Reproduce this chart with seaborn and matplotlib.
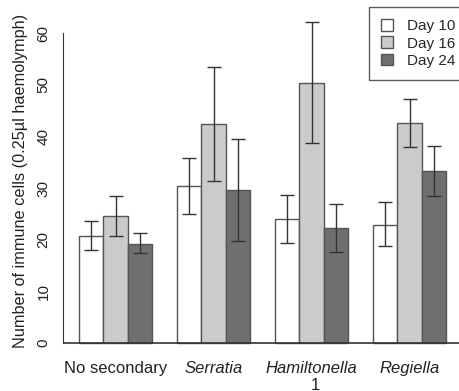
import pandas as pd
import seaborn as sns
import matplotlib.pyplot as plt

# Data
groups = ["No secondary", "Serratia", "Hamiltonella", "Regiella"]
days = ["Day 10", "Day 16", "Day 24"]
day10 = [20.8, 30.4, 24.0, 22.9]
day16 = [24.6, 42.3, 50.4, 42.5]
day24 = [19.2, 29.6, 22.3, 33.2]
day10_lo = [18.0, 25.0, 19.3, 18.7]
day10_hi = [23.7, 35.8, 28.7, 27.2]
day16_lo = [20.8, 31.3, 38.8, 37.9]
day16_hi = [28.5, 53.4, 62.1, 47.3]
day24_lo = [17.4, 19.8, 17.7, 28.4]
day24_hi = [21.2, 39.4, 26.9, 38.1]

means = [day10, day16, day24]
lows = [day10_lo, day16_lo, day24_lo]
highs = [day10_hi, day16_hi, day24_hi]

rows = []
for d, vals in zip(days, means):
    for g, v in zip(groups, vals):
        rows.append({"group": g, "day": d, "cells": v})
df = pd.DataFrame(rows)

sns.set_style("white")
plt.rcParams["font.family"] = ["Liberation Sans", "DejaVu Sans"]

fig = plt.figure(figsize=(4.59, 3.91), dpi=100)
ax = fig.add_axes([63 / 459, 40 / 391, 396 / 459, 351 / 391])

palette = ["#ffffff", "#cbcbcb", "#6f6f6f"]
sns.barplot(data=df, x="group", y="cells", hue="day", order=groups, hue_order=days,
            palette=palette, width=0.75, edgecolor="#555555", linewidth=1,
            errorbar=None, ax=ax, legend=True)

# error bars
for cont, lo, hi, mu in zip(ax.containers, lows, highs, means):
    xs = [b.get_x() + b.get_width() / 2 for b in cont]
    yerr = [[m - l for m, l in zip(mu, lo)], [h - m for m, h in zip(mu, hi)]]
    ax.errorbar(xs, mu, yerr=yerr, fmt="none", ecolor="#333333", elinewidth=1,
                capsize=5, capthick=1)

ax.axhline(0, color="#333333", lw=1.2)
ax.set_xlim(-0.536, 3.505)
ax.set_ylim(-1.55, 66.4)
ax.set_yticks(range(0, 61, 10))
ax.spines["left"].set_bounds(0, 60)
ax.spines["left"].set_color("#333333")
for s in ["top", "right", "bottom"]:
    ax.spines[s].set_visible(False)
ax.tick_params(axis="y", direction="out", length=6, width=1, color="#333333",
               labelsize=11, pad=3, labelcolor="#222222")
plt.setp(ax.get_yticklabels(), rotation=90, va="center")
ax.tick_params(axis="x", length=0, labelsize=12, pad=7.5, labelcolor="#222222")
for lab in ax.get_xticklabels():
    if lab.get_text() != "No secondary":
        lab.set_style("italic")
ax.set_xlabel("")
ax.set_ylabel("Number of immune cells (0.25µl haemolymph)", fontsize=11.7,
              color="#222222")
ax.yaxis.set_label_coords(-0.088, 0.484)

leg = ax.legend(loc="upper left", bbox_to_anchor=(369 / 459, 1 - 7 / 391),
                bbox_transform=fig.transFigure, frameon=True, fancybox=False,
                fontsize=11, handlelength=0.8, handleheight=0.8, borderpad=0.8,
                labelspacing=0.2, handletextpad=0.9, borderaxespad=0)
leg.get_frame().set_edgecolor("#333333")
leg.get_frame().set_linewidth(1)

fig.text(315 / 459, 1 - 385 / 391, "1", ha="center", va="center", fontsize=12,
         color="#222222")

fig.savefig("out.png", dpi=100)
